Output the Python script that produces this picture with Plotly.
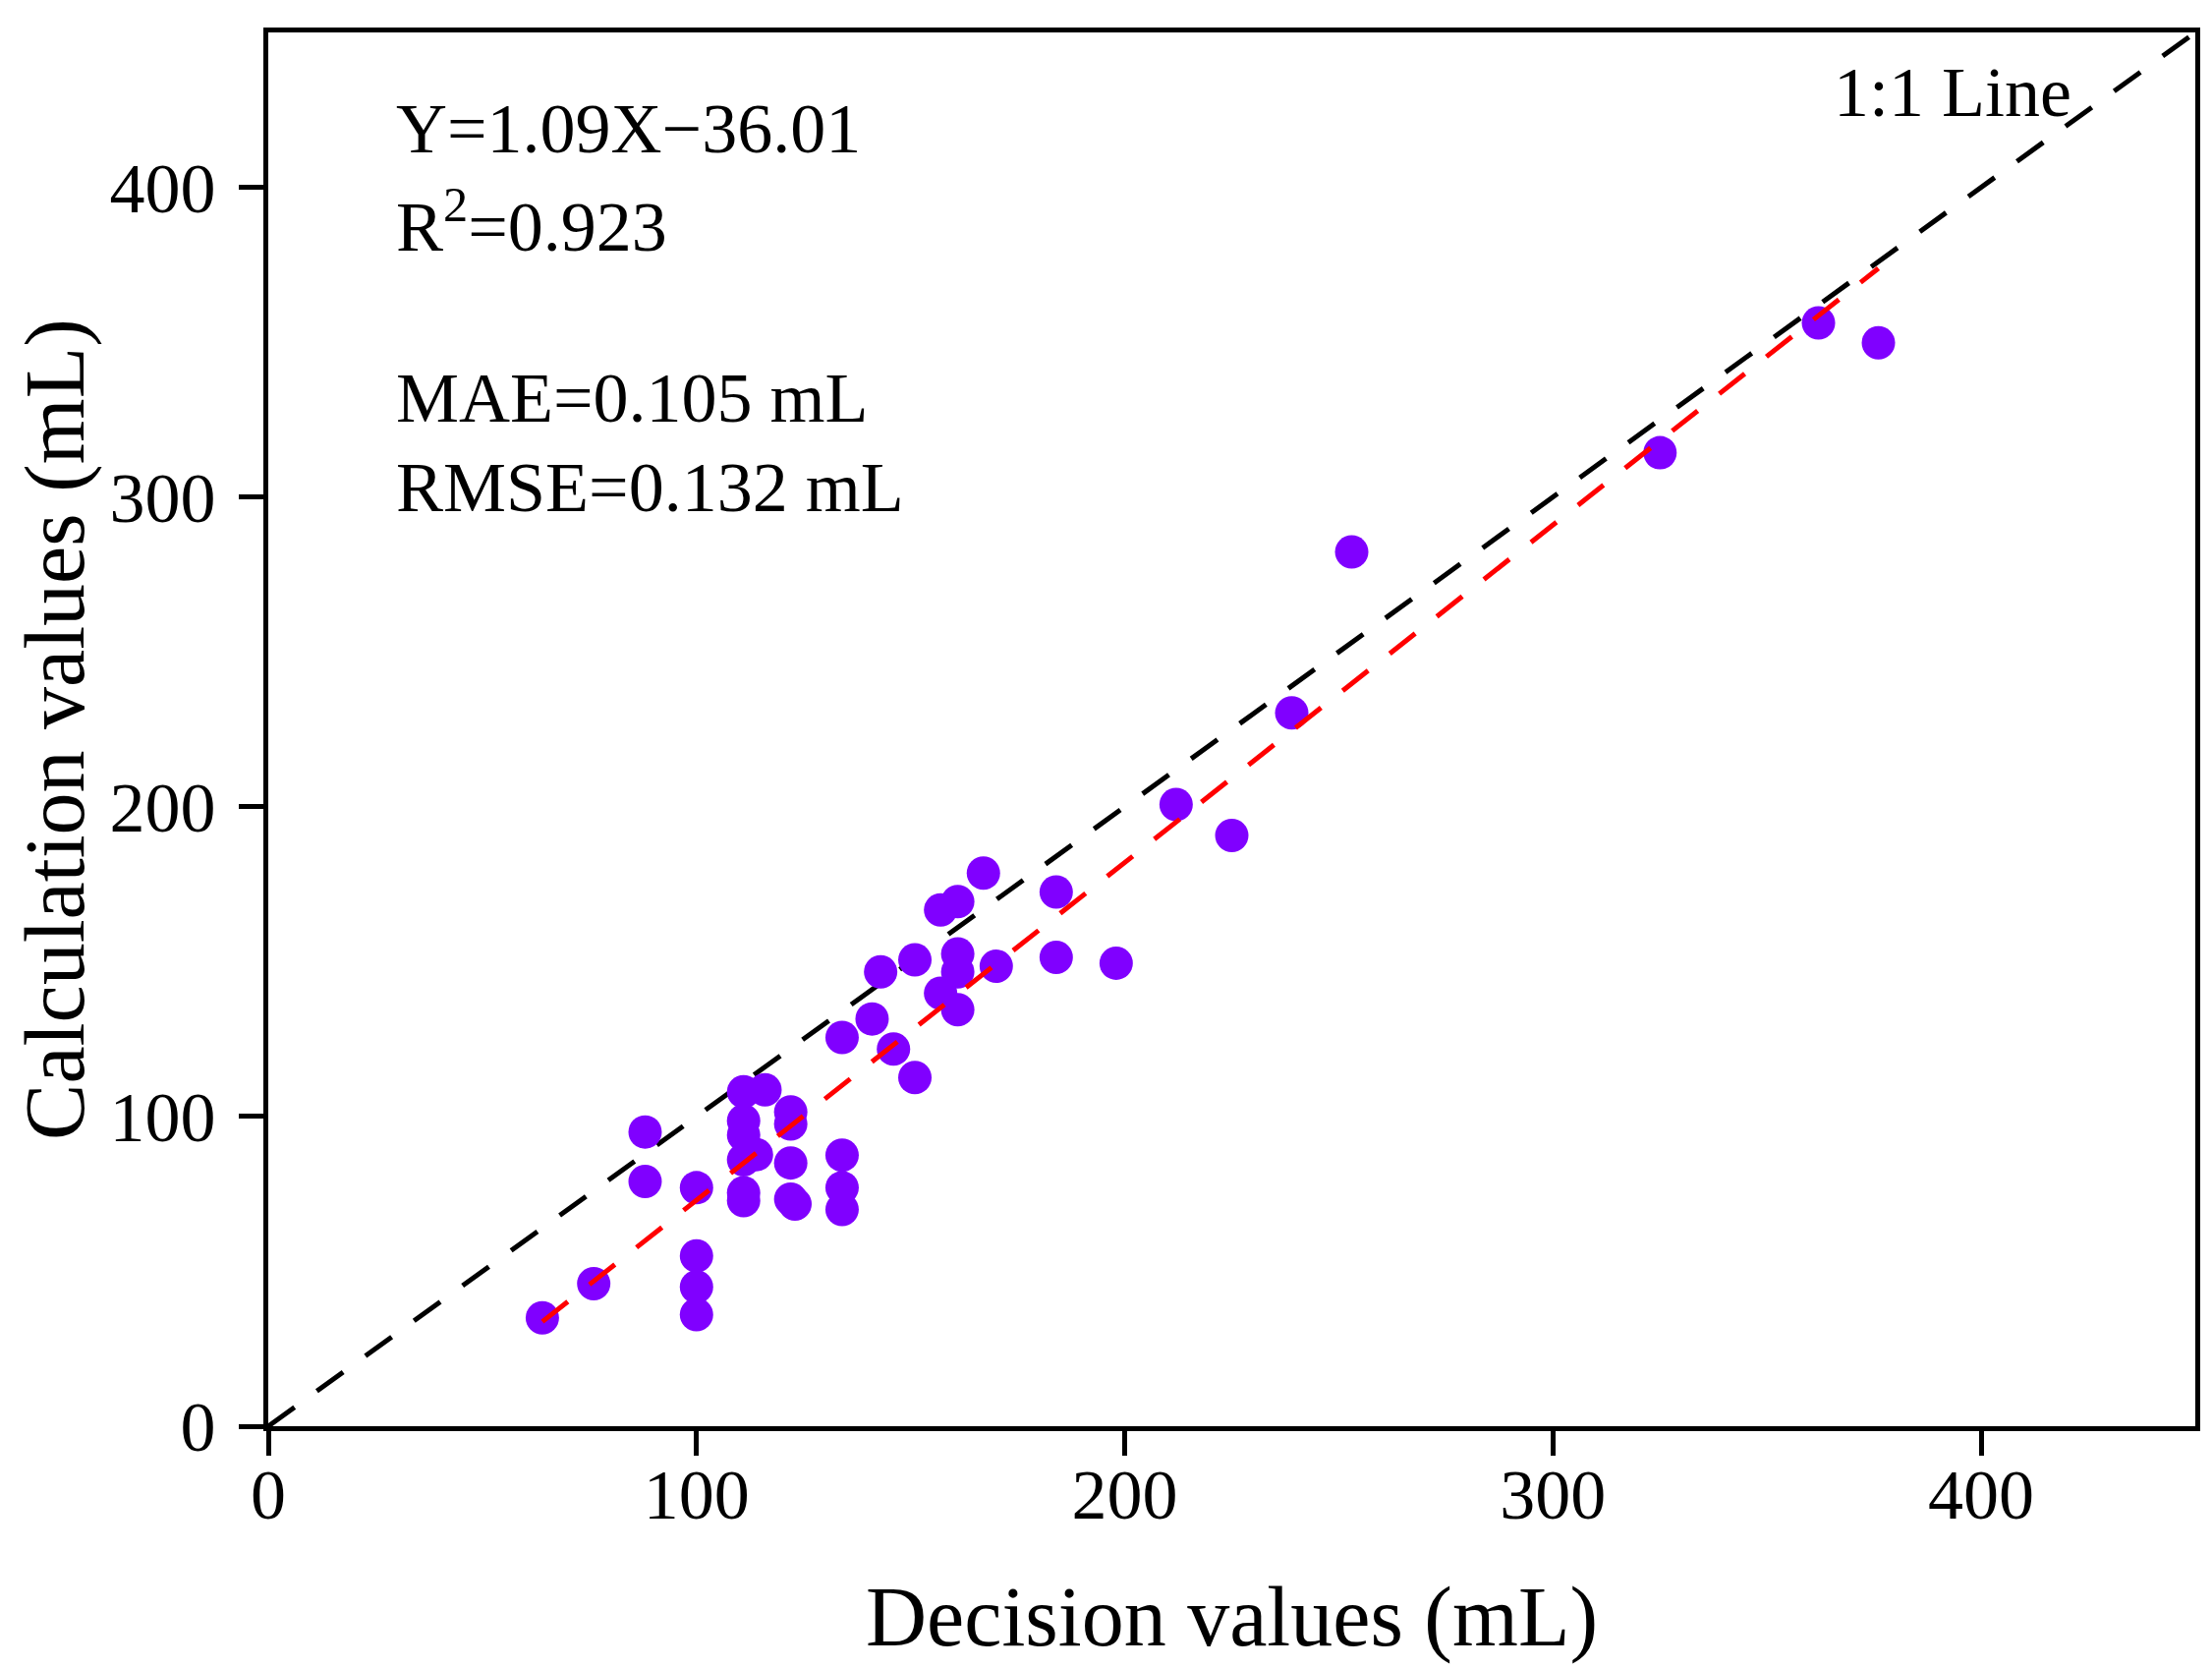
import numpy as np
import plotly.graph_objects as go

# decision (x) vs calculation (y) values, mL
decision = [64, 76, 88, 88, 100, 100, 100, 100,
            111, 116, 111, 111, 114, 111, 111, 111,
            122, 122, 122, 122, 123,
            134, 134, 134, 134,
            141, 143, 146, 151, 151, 157, 157, 161, 161, 161, 161,
            167, 170, 184, 184, 198, 212, 225, 239, 253, 325, 362, 376]
calculation = [35, 46, 95, 79, 77, 55, 45, 36,
               108, 108.6, 98.6, 94, 87.7, 86, 75.4, 72.8,
               101.5, 97.6, 85, 73.3, 71.7,
               125.5, 87.5, 77, 70,
               131.5, 146.7, 121.8, 150.6, 112.6, 139.8, 166.7, 169.4, 152.5, 146.7, 134.5,
               178.6, 148.5, 172.5, 151.4, 149.5, 200.7, 190.7, 230.3, 282.3, 314.3, 356.2, 349.8]

# fit shown on the chart
slope = 1.09
intercept = -36.01
one_to_one = [0, 450]

stats_lines = ['Y=1.09X\u221236.01', 'R<sup>2</sup>=0.923', 'MAE=0.105 mL', 'RMSE=0.132 mL']
stats_y = [419, 389, 332, 303]

font = 'Times New Roman, Liberation Serif, serif'

fit_x = np.array([min(decision), max(decision)])
fit_y = slope*fit_x + intercept

fig = go.Figure()
fig.add_trace(go.Scatter(x=one_to_one, y=one_to_one, mode='lines',
                         line=dict(color='black', width=5, dash='33px,28px'),
                         showlegend=False, hoverinfo='skip'))
fig.add_trace(go.Scatter(x=decision, y=calculation, mode='markers',
                         marker=dict(color='#8000FF', size=34, line=dict(width=0)),
                         showlegend=False))
fig.add_trace(go.Scatter(x=fit_x, y=fit_y, mode='lines',
                         line=dict(color='red', width=5, dash='33px,28px'),
                         showlegend=False, hoverinfo='skip'))

for txt, yy in zip(stats_lines, stats_y):
    fig.add_annotation(x=29.3, y=yy, text=txt, showarrow=False,
                       xanchor='left', yanchor='middle', font=dict(size=72))
fig.add_annotation(x=365, y=430.5, text='1:1 Line', showarrow=False,
                   xanchor='left', yanchor='middle', font=dict(size=72))

axis_style = dict(range=[0, 450], tickvals=[0, 100, 200, 300, 400],
                  showgrid=False, zeroline=False, showline=True, linecolor='black',
                  linewidth=5, mirror=True, ticks='outside', ticklen=25, tickwidth=5,
                  tickcolor='black', tickfont=dict(size=72), automargin=False)

fig.update_layout(width=2251, height=1697, template='plotly_white',
                  plot_bgcolor='white', paper_bgcolor='white',
                  font=dict(family=font, size=72, color='black'),
                  margin=dict(l=265, r=25, t=25, b=254))
fig.update_xaxes(title=dict(text='Decision values (mL)', standoff=55),
                 ticklabelstandoff=-22, **axis_style)
fig.update_yaxes(title=dict(text='Calculation values (mL)', standoff=21),
                 ticklabelstandoff=9, **axis_style)

fig.write_html('out.html')
